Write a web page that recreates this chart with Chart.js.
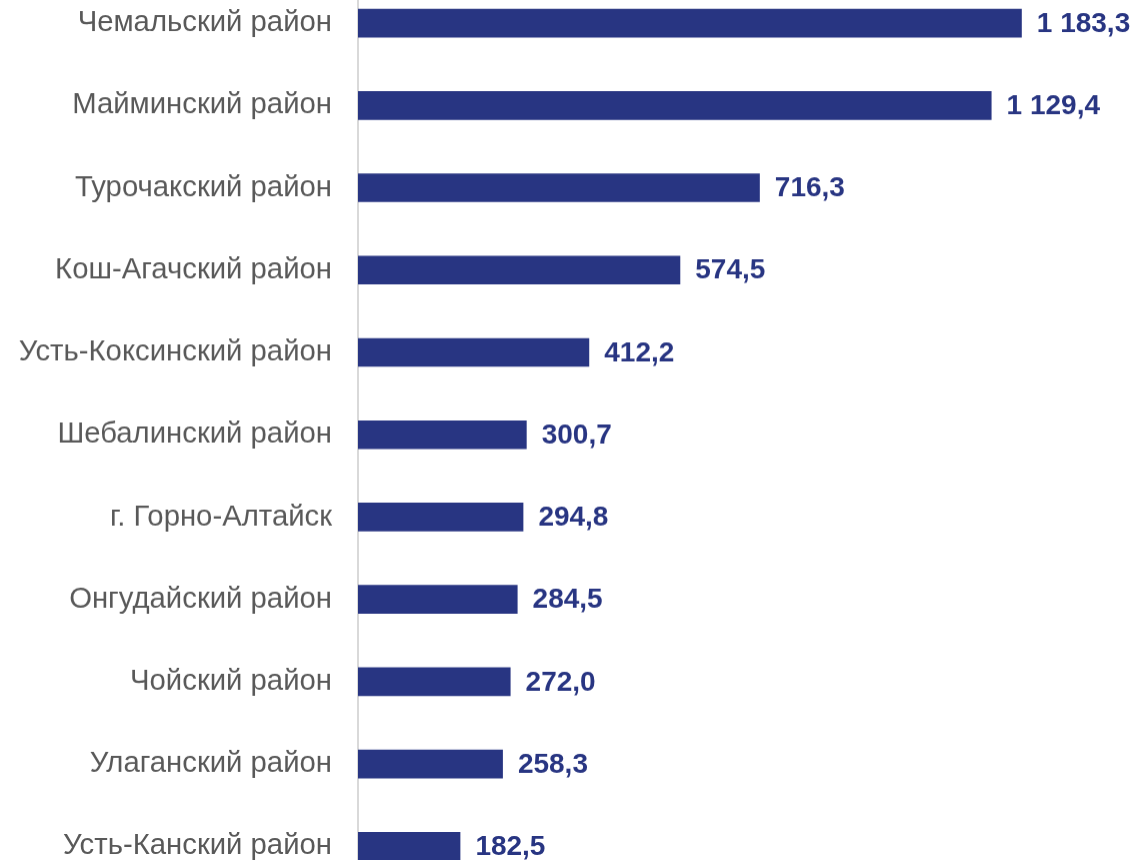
<!DOCTYPE html>
<html>
<head>
<meta charset="utf-8">
<script src="https://cdn.jsdelivr.net/npm/chart.js@4"></script>
<style>
  html, body { margin: 0; padding: 0; background: #fff; overflow: hidden; }
  #wrap { position: absolute; left: 0; top: -17.8px; width: 1140px; height: 904.4px; }
</style>
</head>
<body>
<div id="wrap"><canvas id="chart"></canvas></div>
<script>
// districts, top to bottom
const districts = [
  'Чемальский район',
  'Майминский район',
  'Турочакский район',
  'Кош-Агачский район',
  'Усть-Коксинский район',
  'Шебалинский район',
  'г. Горно-Алтайск',
  'Онгудайский район',
  'Чойский район',
  'Улаганский район',
  'Усть-Канский район'
];
const values = [1183.3, 1129.4, 716.3, 574.5, 412.2, 300.7, 294.8, 284.5, 272.0, 258.3, 182.5];

const barColor = '#283582';
const labelColor = '#595959';

// russian number format: "1 183,3"
function fmt(v) {
    var parts = v.toFixed(1).split('.');
    var intPart = parts[0].replace(/\B(?=(\d{3})+(?!\d))/g, ' ');
    return intPart + ',' + parts[1];
}

// value labels right of every bar
const valueLabels = {
    id: 'valueLabels',
    afterDatasetsDraw(chart) {
        const ctx = chart.ctx;
        const meta = chart.getDatasetMeta(0);
        ctx.save();
        ctx.font = 'bold 28px "Liberation Sans", Arial, sans-serif';
        ctx.fillStyle = barColor;
        ctx.textAlign = 'left';
        ctx.textBaseline = 'middle';
        meta.data.forEach(function(bar, i) {
            ctx.fillText(fmt(values[i]), bar.x + 15, bar.y + 1);
        });
        ctx.restore();
    }
};

new Chart(document.getElementById('chart'), {
    type: 'bar',
    data: {
        labels: districts,
        datasets: [{
            data: values,
            backgroundColor: barColor,
            borderWidth: 0,
            categoryPercentage: 1,
            barPercentage: 0.348
        }]
    },
    options: {
        indexAxis: 'y',
        responsive: true,
        maintainAspectRatio: false,
        animation: false,
        layout: { padding: 0 },
        plugins: {
            legend: { display: false },
            tooltip: { enabled: false }
        },
        scales: {
            x: {
                display: false,
                min: 0,
                max: 1394
            },
            y: {
                afterFit: function(s) {
                    s.width = 358;
                    // no extra room above/below, bands fill the whole height
                    s.paddingTop = 0;
                    s.paddingBottom = 0;
                },
                grid: { display: false, drawTicks: false },
                border: { display: true, color: '#d9d9d9', width: 2 },
                ticks: {
                    color: labelColor,
                    padding: 26,
                    font: { family: '"Liberation Sans", Arial, sans-serif', size: 29.3 }
                }
            }
        }
    },
    plugins: [valueLabels]
});
</script>
</body>
</html>
